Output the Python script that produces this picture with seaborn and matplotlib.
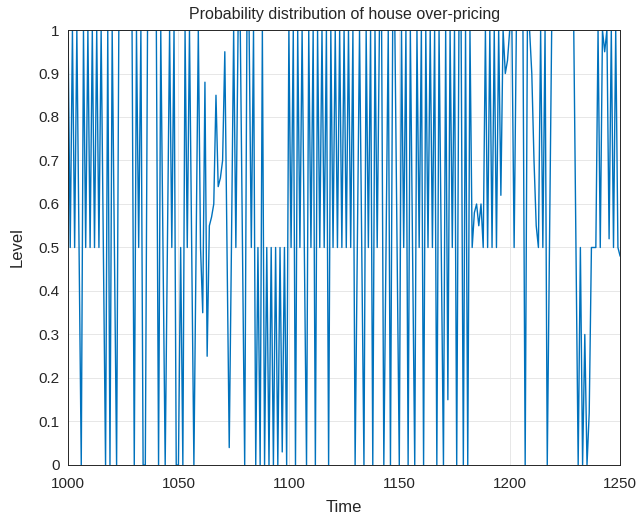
import numpy as np
import pandas as pd
import matplotlib
matplotlib.use("Agg")
import matplotlib.pyplot as plt
import seaborn as sns

# time steps
time = np.arange(1000, 1251)

# level values, ten per row
level = [
    1, 0.5, 1, 0.5, 1, 0.5, 0, 1, 0.5, 1,
    0.5, 1, 0.5, 1, 0.5, 1, 0.5, 0, 1, 0,
    1, 0.5, 0, 1, 1, 1, 1, 1, 1, 1,
    0, 1, 0.5, 1, 0, 0, 1, 1, 1, 1,
    1, 0, 1, 0.5, 0, 0.5, 1, 0.5, 1, 0,
    0, 0.5, 0, 1, 0.5, 1, 0.5, 0, 0.5, 1,
    0.5, 0.35, 0.88, 0.25, 0.55, 0.57, 0.6, 0.85, 0.64, 0.66,
    0.7, 0.95, 0.5, 0.04, 0.5, 1, 0.5, 1, 1, 0.5,
    0, 1, 1, 0.5, 1, 0, 0.5, 0, 1, 0,
    0.5, 0, 0.5, 0, 0.5, 0, 0.5, 0.03, 0.5, 0,
    1, 0.5, 1, 0, 1, 0.5, 1, 0.5, 0, 1,
    0.5, 1, 0, 1, 0.5, 1, 0.5, 1, 0, 1,
    0.5, 1, 0.5, 1, 0.5, 1, 0.5, 1, 0.5, 1,
    0, 0.5, 1, 0.5, 0, 1, 0.5, 1, 0, 1,
    0.5, 1, 1, 0, 0.5, 1, 0, 1, 1, 0.5,
    0, 1, 0.5, 1, 0, 1, 0.5, 0, 1, 0.5,
    1, 0, 1, 0.5, 1, 0.5, 1, 0, 1, 0.5,
    0, 1, 0.15, 1, 0.5, 1, 0, 1, 1, 0,
    1, 0, 1, 0.5, 0.58, 0.6, 0.55, 0.6, 0.5, 1,
    0.5, 1, 0.5, 1, 0.5, 1, 0.62, 1, 0.9, 0.93,
    1, 1, 0.5, 1, 1, 1, 1, 0, 1, 1,
    0.9, 0.7, 0.55, 0.5, 1, 0.5, 1, 0, 0.5, 1,
    1, 1, 1, 1, 1, 1, 1, 1, 1, 1,
    0.5, 0, 0.5, 0, 0.3, 0, 0.12, 0.5, 0.5, 0.5,
    1, 0.5, 1, 0.95, 1, 0.52, 1, 0.5, 1, 0.5,
    0.48,
]

df = pd.DataFrame({"Time": time, "Level": level})

sns.set_style("white")
plt.rcParams["font.family"] = ["Liberation Sans", "DejaVu Sans"]

fig = plt.figure(figsize=(6.38, 5.2), dpi=100)
ax = fig.add_axes([0.1066, 0.1058, 0.8654, 0.8365])

sns.lineplot(data=df, x="Time", y="Level", color="#0072BD", linewidth=1.0, ax=ax)

ax.set_xlim(1000, 1250)
ax.set_ylim(0, 1)
ax.set_xticks(np.arange(1000, 1251, 50))
ax.set_yticks(np.arange(0, 1.01, 0.1))
ax.set_yticklabels(["0", "0.1", "0.2", "0.3", "0.4", "0.5", "0.6", "0.7", "0.8", "0.9", "1"])
ax.grid(True, color="#e3e3e3", linewidth=0.6)
ax.tick_params(direction="in", length=4, labelsize=11, colors="#262626")
ax.tick_params(axis="x", pad=9)
ax.tick_params(axis="y", pad=6)
for s in ax.spines.values():
    s.set_color("#262626")
    s.set_linewidth(0.7)

ax.set_title("Probability distribution of house over-pricing", fontsize=11.5, color="#262626", pad=8)
ax.set_xlabel("Time", fontsize=12, color="#262626", labelpad=6)
ax.set_ylabel("Level", fontsize=12, color="#262626", labelpad=10)

fig.savefig("out.png", dpi=100)
